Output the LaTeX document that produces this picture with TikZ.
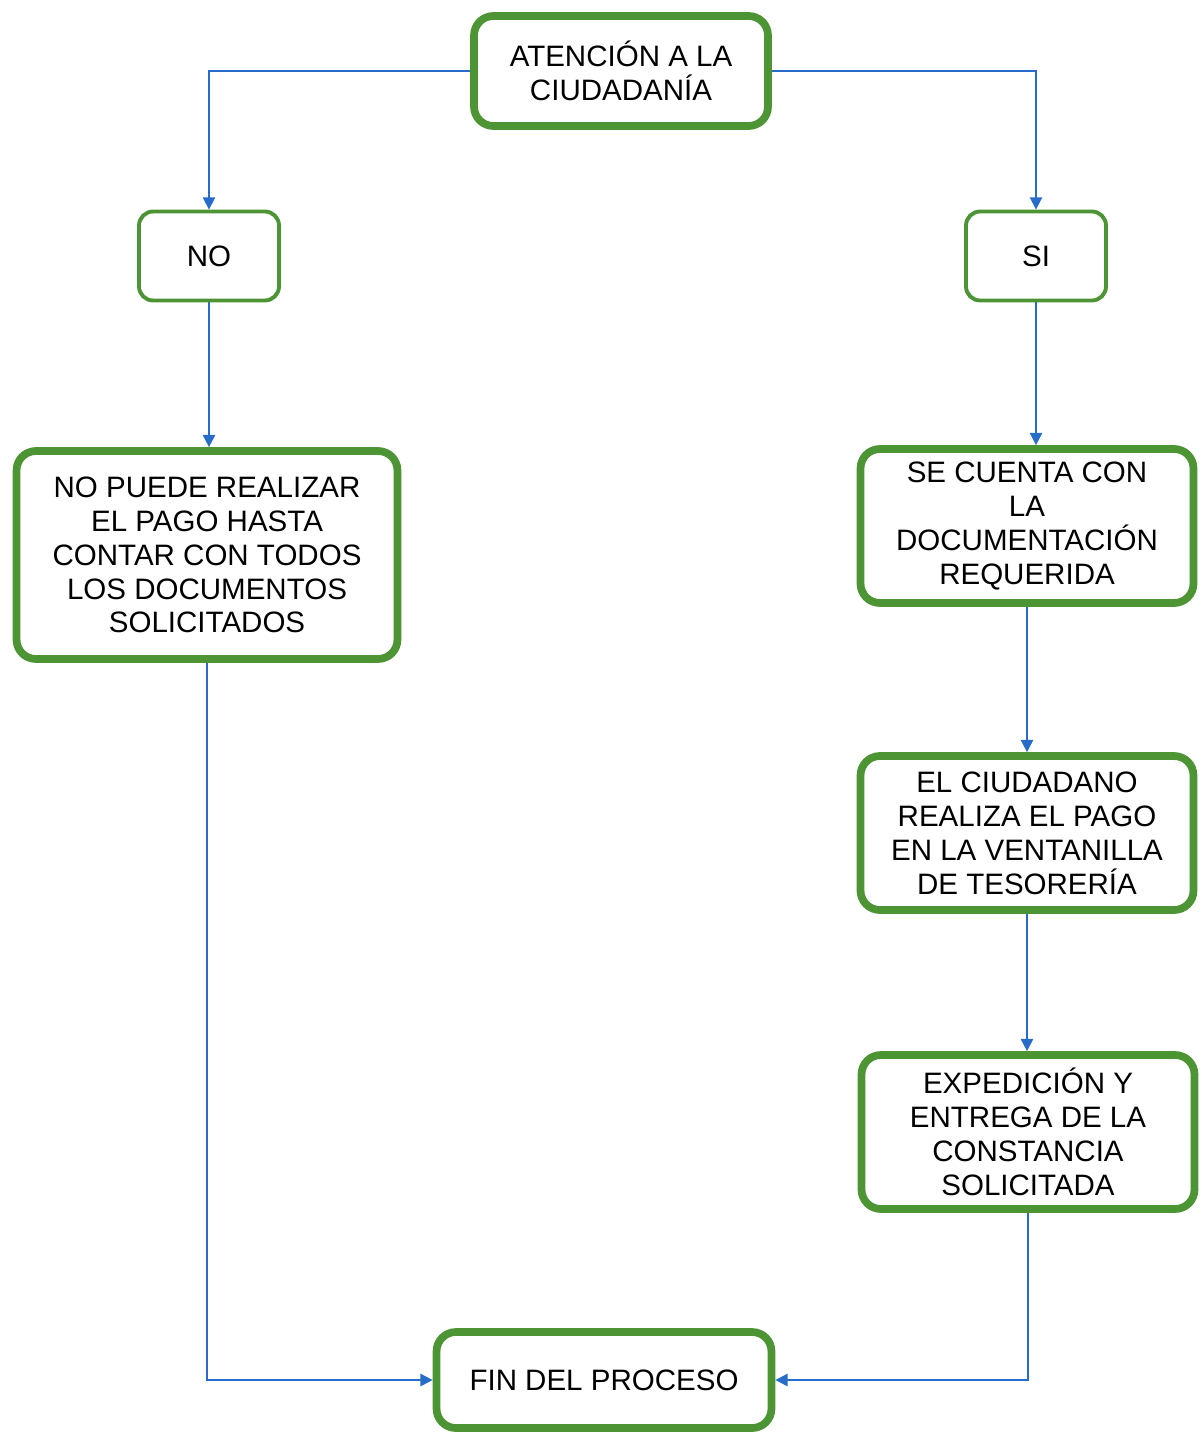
\documentclass[tikz,border=0pt]{standalone}
\usepackage{fontspec}
\setmainfont{Liberation Sans}
\usetikzlibrary{arrows.meta}

\definecolor{boxgreen}{RGB}{76,148,52}
\definecolor{lineblue}{RGB}{38,108,200}

\tikzset{
    bigbox/.style={draw=boxgreen, line width=4.4pt, rounded corners=11pt, fill=white,
        align=center, inner sep=2pt, font=\fontsize{16.8}{19.3}\selectfont},
    smallbox/.style={draw=boxgreen, line width=2.2pt, rounded corners=8pt, fill=white,
        minimum width=2.8cm, minimum height=1.78cm, align=center, font=\fontsize{16.8}{19.3}\selectfont},
    flow/.style={draw=lineblue, line width=1pt, -{Triangle[length=7pt,width=7pt]}}
}

\begin{document}
\begin{tikzpicture}[x=0.02cm,y=-0.02cm]
\useasboundingbox (0,0) rectangle (1201,1435);

% Start of the process
\node[bigbox, minimum width=5.88cm, minimum height=2.2cm] (aten) at (621,71) {ATENCIÓN A LA\\CIUDADANÍA};

% The two answers
\node[smallbox] (no) at (209,256) {NO};
\node[smallbox] (si) at (1036,256) {SI};

% Left branch
\node[bigbox, minimum width=7.62cm, minimum height=4.16cm] (nopago) at (207,555)
    {NO PUEDE REALIZAR\\EL PAGO HASTA\\CONTAR CON TODOS\\LOS DOCUMENTOS\\SOLICITADOS};

% Right branch
\node[bigbox, minimum width=6.66cm, minimum height=3.08cm] (docs) at (1027,526)
    {SE CUENTA CON\\LA\\DOCUMENTACIÓN\\REQUERIDA};
\node[bigbox, minimum width=6.66cm, minimum height=3.08cm] (pago) at (1027,833)
    {EL CIUDADANO\\REALIZA EL PAGO\\EN LA VENTANILLA\\DE TESORERÍA};
\node[bigbox, minimum width=6.66cm, minimum height=3.08cm] (exped) at (1028,1132)
    {EXPEDICIÓN Y\\ENTREGA DE LA\\CONSTANCIA\\SOLICITADA};

% End
\node[bigbox, minimum width=6.7cm, minimum height=1.92cm] (fin) at (604,1380) {FIN DEL PROCESO};

% Connectors
\draw[flow] (aten.west) -| (no.north);
\draw[flow] (aten.east) -| (si.north);
\draw[flow] (no.south) -- (no.south |- nopago.north);
\draw[flow] (si.south) -- (si.south |- docs.north);
\draw[flow] (docs.south) -- (pago.north);
\draw[flow] (pago.south) -- (pago.south |- exped.north);
\draw[flow] (nopago.south) |- (fin.west);
\draw[flow] (exped.south) |- (fin.east);

\end{tikzpicture}
\end{document}
